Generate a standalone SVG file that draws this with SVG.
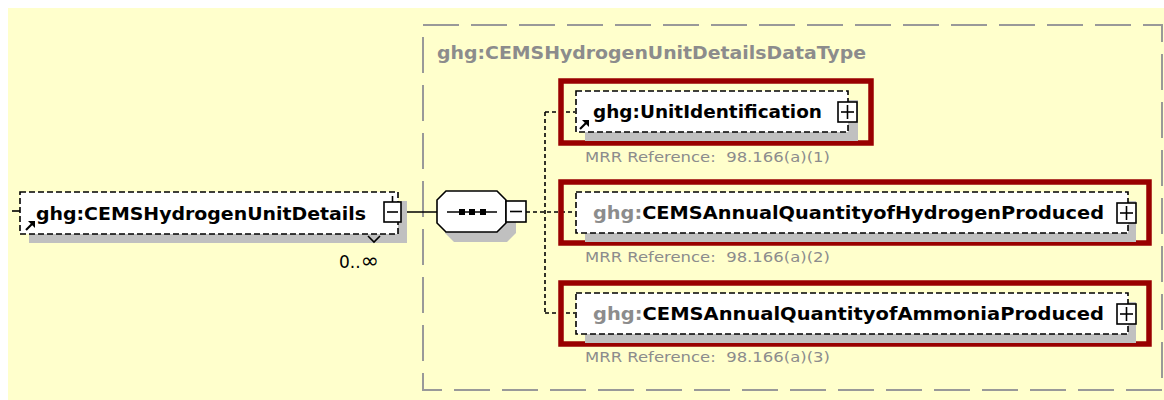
<svg xmlns="http://www.w3.org/2000/svg" width="1164" height="400" viewBox="0 0 1164 400">
  <defs>
    <style>
      .bg { fill: #FFFFCC; }
      .frame { fill: none; stroke: #999999; stroke-width: 2; stroke-dasharray: 36 12; }
      .title { font-family: "DejaVu Sans", "Liberation Sans", sans-serif; font-weight: bold; font-size: 17px; fill: #8C8C8C; }
      .shadow { fill: #C0C0C0; }
      .box { fill: #FFFFFF; stroke: #000000; stroke-width: 1.6; stroke-dasharray: 6 3; }
      .hl { fill: none; stroke: #990000; stroke-width: 5.5; }
      .name { font-family: "DejaVu Sans", "Liberation Sans", sans-serif; font-weight: bold; font-size: 18px; fill: #000000; }
      .ns { fill: #8C8C8C; }
      .note { font-family: "DejaVu Sans", "Liberation Sans", sans-serif; font-size: 14.5px; fill: #8C8C8C; }
      .card { font-family: "DejaVu Sans", "Liberation Sans", sans-serif; font-size: 17px; fill: #000000; }
      .inf { font-size: 22px; }
      .btn { fill: #FFFFFF; stroke: #000000; stroke-width: 1.6; }
      .sign { stroke: #000000; stroke-width: 1.6; fill: none; }
      .solid { stroke: #000000; stroke-width: 1.6; fill: none; }
      .dash { stroke: #000000; stroke-width: 1.6; fill: none; stroke-dasharray: 4 3; }
      .ref { stroke: #000000; stroke-width: 2.2; fill: none; }
      .refhead { fill: #000000; }
    </style>
  </defs>

  <!-- canvas -->
  <rect class="bg" x="8" y="8" width="1156" height="392"/>

  <!-- complex type frame -->
  <g id="type-frame">
    <rect class="frame" x="423" y="25" width="739" height="365"/>
    <text class="title" x="437" y="59" textLength="429" lengthAdjust="spacingAndGlyphs">ghg:CEMSHydrogenUnitDetailsDataType</text>
  </g>

  <!-- connectors -->
  <g id="connectors">
    <line class="solid" x1="402" y1="212" x2="437" y2="212"/>
    <line class="dash" x1="526" y1="212" x2="575" y2="212"/>
    <line class="dash" x1="545" y1="112" x2="545" y2="313"/>
    <line class="dash" x1="545" y1="112" x2="575" y2="112"/>
    <line class="dash" x1="545" y1="313" x2="575" y2="313"/>
    <line class="solid" x1="12" y1="211" x2="20" y2="211"/>
  </g>

  <!-- root element -->
  <g id="node-root">
    <rect class="shadow" x="29" y="201" width="378" height="42"/>
    <rect class="box" x="20" y="192" width="378" height="42"/>
    <line class="ref" x1="26" y1="230" x2="32" y2="224"/>
    <polygon class="refhead" points="28,221 35,221 35,228"/>
    <text class="name" x="36" y="220" textLength="330" lengthAdjust="spacingAndGlyphs">ghg:CEMSHydrogenUnitDetails</text>
    <rect class="btn" x="384" y="202" width="17" height="20"/>
    <line class="sign" x1="387" y1="212" x2="398" y2="212"/>
    <line class="sign" x1="392.5" y1="196" x2="392.5" y2="202"/>
    <polyline class="sign" points="368,236 374,242 380,236" stroke-width="1"/>
    <text class="card" x="339" y="268">0..<tspan class="inf">∞</tspan></text>
  </g>

  <!-- sequence compositor -->
  <g id="node-sequence">
    <polygon class="shadow" points="454,201 507,201 516,210 516,233 507,242 454,242 445,233 445,210"/>
    <polygon fill="#FFFFFF" stroke="#000000" stroke-width="1.6" points="446,191 497,191 506,200 506,223 497,232 446,232 437,223 437,200"/>
    <line class="solid" x1="447" y1="212" x2="497" y2="212"/>
    <rect x="459" y="209" width="6" height="6" fill="#000000"/>
    <rect x="469" y="209" width="6" height="6" fill="#000000"/>
    <rect x="480" y="209" width="6" height="6" fill="#000000"/>
    <rect class="btn" x="506" y="201" width="20" height="21"/>
    <line class="sign" x1="510" y1="211.5" x2="522" y2="211.5"/>
  </g>

  <!-- child: unit identification -->
  <g id="node-unit-identification">
    <rect class="hl" x="561" y="81" width="310" height="62"/>
    <rect class="shadow" x="585" y="100" width="273" height="41"/>
    <rect class="box" x="576" y="91" width="272" height="41"/>
    <line class="ref" x1="580" y1="129" x2="586" y2="123"/>
    <polygon class="refhead" points="582,120 589,120 589,127"/>
    <text class="name" x="593" y="118" textLength="229" lengthAdjust="spacingAndGlyphs">ghg:UnitIdentification</text>
    <rect class="btn" x="838" y="102" width="19" height="20"/>
    <line class="sign" x1="841" y1="112" x2="854" y2="112"/>
    <line class="sign" x1="847.5" y1="105" x2="847.5" y2="119"/>
    <text class="note" x="585" y="162" textLength="245" lengthAdjust="spacingAndGlyphs">MRR Reference:&#160; 98.166(a)(1)</text>
  </g>

  <!-- child: annual hydrogen quantity -->
  <g id="node-hydrogen-produced">
    <rect class="hl" x="561" y="182" width="588" height="61"/>
    <rect class="shadow" x="585" y="201" width="551" height="41"/>
    <rect class="box" x="576" y="192" width="552" height="41"/>
    <text class="name" x="593" y="219" textLength="511" lengthAdjust="spacingAndGlyphs"><tspan class="ns">ghg:</tspan>CEMSAnnualQuantityofHydrogenProduced</text>
    <rect class="btn" x="1117" y="203" width="19" height="20"/>
    <line class="sign" x1="1120" y1="213" x2="1133" y2="213"/>
    <line class="sign" x1="1126.5" y1="206" x2="1126.5" y2="220"/>
    <text class="note" x="585" y="262" textLength="245" lengthAdjust="spacingAndGlyphs">MRR Reference:&#160; 98.166(a)(2)</text>
  </g>

  <!-- child: annual ammonia quantity -->
  <g id="node-ammonia-produced">
    <rect class="hl" x="561" y="283" width="588" height="61"/>
    <rect class="shadow" x="585" y="302" width="551" height="41"/>
    <rect class="box" x="576" y="293" width="552" height="41"/>
    <text class="name" x="593" y="320" textLength="511" lengthAdjust="spacingAndGlyphs"><tspan class="ns">ghg:</tspan>CEMSAnnualQuantityofAmmoniaProduced</text>
    <rect class="btn" x="1117" y="304" width="19" height="20"/>
    <line class="sign" x1="1120" y1="314" x2="1133" y2="314"/>
    <line class="sign" x1="1126.5" y1="307" x2="1126.5" y2="321"/>
    <text class="note" x="585" y="362" textLength="245" lengthAdjust="spacingAndGlyphs">MRR Reference:&#160; 98.166(a)(3)</text>
  </g>
</svg>
